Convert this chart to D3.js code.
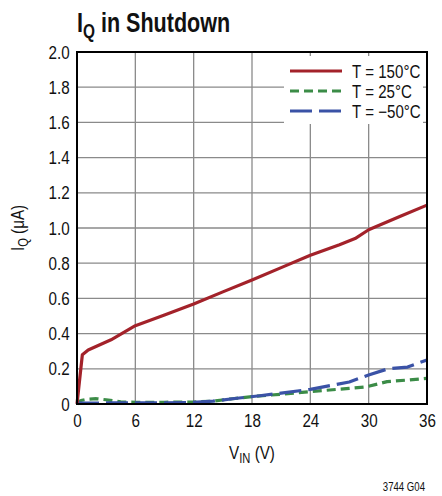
<!DOCTYPE html>
<html><head><meta charset="utf-8">
<script src="https://cdn.jsdelivr.net/npm/d3@7"></script>
<style>
body{margin:0;background:#fff;}
text{font-family:"Liberation Sans",Arial,sans-serif;fill:#111;}
</style></head>
<body><svg id="c" width="442" height="496"></svg>
<script>
const xTicks=[0,6,12,18,24,30,36];
const yTicks=[0,0.2,0.4,0.6,0.8,1.0,1.2,1.4,1.6,1.8,2.0];
const yTickLabels=["0","0.2","0.4","0.6","0.8","1.0","1.2","1.4","1.6","1.8","2.0"];
const seriesNames=["T = 150°C","T = 25°C","T = \u221250°C"];
const v150=[[0,0],[0.55,0.28],[1.15,0.307],[3.5,0.365],[6,0.445],[9,0.505],[12,0.568],[15,0.637],[18,0.705],[21,0.775],[24,0.845],[27,0.905],[28.6,0.94],[30,0.99],[33.2,1.065],[36,1.13]];
const v25=[[0,0],[0.4,0.02],[1,0.027],[2,0.03],[3,0.024],[4.5,0.012],[6,0.01],[9,0.01],[12,0.011],[14,0.016],[16,0.03],[18,0.042],[20,0.051],[24,0.07],[28,0.089],[29.8,0.098],[31.9,0.127],[34,0.136],[36,0.146]];
const vm50=[[0,0.005],[3,0.006],[6,0.006],[9,0.007],[12,0.009],[14,0.016],[16,0.03],[18.8,0.047],[21,0.062],[24,0.083],[28,0.125],[30,0.165],[32,0.2],[34,0.21],[36,0.25]];
const colors=["#a3222a","#3b8c47","#3a52a6"];
const dashes=[null,"9,5","22,7"];
const SX=0.8;

const svg=d3.select("#c");
const L=77,R=427,T=52,B=404;
const x=d3.scaleLinear().domain([0,36]).range([L,R]);
const y=d3.scaleLinear().domain([0,2]).range([B,T]);

function label(px,py,anchor,size,weight,rot,sx){
  const g=svg.append("g").attr("transform",`translate(${px},${py})`+(rot?` rotate(${rot})`:"")+` scale(${sx||SX},1)`);
  return g.append("text").attr("text-anchor",anchor).attr("font-size",size).attr("font-weight",weight||null);
}

// grid
svg.append("g").selectAll("line").data(xTicks.slice(1,-1)).join("line")
 .attr("x1",d=>x(d)).attr("x2",d=>x(d)).attr("y1",T).attr("y2",B)
 .attr("stroke","#8a8a8a").attr("stroke-width",1.3);
svg.append("g").selectAll("line").data(yTicks.slice(1,-1)).join("line")
 .attr("y1",d=>y(d)).attr("y2",d=>y(d)).attr("x1",L).attr("x2",R)
 .attr("stroke","#8a8a8a").attr("stroke-width",1.3);

// legend background
svg.append("rect").attr("x",284).attr("y",56).attr("width",139).attr("height",68).attr("fill","#fff");

// lines
const line=d3.line().x(d=>x(d[0])).y(d=>y(d[1]));
[[v25,1],[vm50,2],[v150,0]].forEach(([s,i])=>{
  svg.append("path").datum(s).attr("d",line).attr("fill","none")
   .attr("stroke",colors[i]).attr("stroke-width",3.2)
   .attr("stroke-dasharray",dashes[i]).attr("stroke-linejoin","round");
});

// border
svg.append("rect").attr("x",L).attr("y",T).attr("width",R-L).attr("height",B-T)
 .attr("fill","none").attr("stroke","#000").attr("stroke-width",2);

// axes labels
const xa=d3.axisBottom(x).tickValues(xTicks).tickSize(0).tickPadding(10);
svg.append("g").attr("transform",`translate(0,${B})`).call(xa)
 .call(g=>g.select(".domain").remove())
 .selectAll("text").attr("font-size",19).style("font-family",null).attr("transform",`scale(${SX},1)`);
const ya=d3.axisLeft(y).tickValues(yTicks).tickFormat((d,i)=>yTickLabels[i]).tickSize(0).tickPadding(8);
svg.append("g").attr("transform",`translate(${L-1},0)`).call(ya)
 .call(g=>g.select(".domain").remove())
 .selectAll("text").attr("font-size",19).style("font-family",null).attr("transform",`scale(${SX},1)`);
svg.selectAll(".tick text").attr("fill","#111");

// legend
seriesNames.forEach((n,i)=>{
  const ly=71+i*20;
  svg.append("line").attr("x1",290).attr("x2",342).attr("y1",ly).attr("y2",ly)
   .attr("stroke",colors[i]).attr("stroke-width",3.2).attr("stroke-dasharray",dashes[i]);
  label(352,ly+6.5,"start",18,null,null,0.84).text(n);
});

// title
const t=label(77,32,"start",28,"bold",null,0.77);
t.append("tspan").text("I");
t.append("tspan").attr("dy",6).attr("font-size",20).text("Q");
t.append("tspan").attr("dy",-6).text(" in Shutdown");

// x title
const xt=label(252,459,"middle",19);
xt.append("tspan").text("V");
xt.append("tspan").attr("dy",4).attr("font-size",14).text("IN");
xt.append("tspan").attr("dy",-4).text(" (V)");

// y title
const yt=label(24,228,"middle",19,null,-90);
yt.append("tspan").text("I");
yt.append("tspan").attr("dy",4).attr("font-size",14).text("Q");
yt.append("tspan").attr("dy",-4).text(" (\u03bcA)");

label(425,491,"end",12).text("3744 G04");
</script></body></html>
